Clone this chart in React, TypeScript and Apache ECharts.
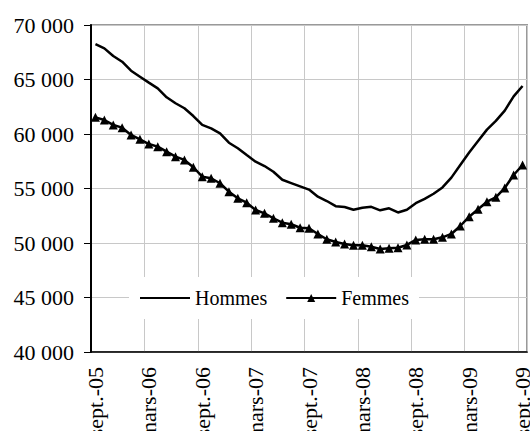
import React, { useEffect, useRef } from "react";
import * as echarts from "echarts";

const years = ["05", "06", "07", "08", "09"];
const monthNames = ["janv.", "févr.", "mars", "avr.", "mai", "juin", "juil.", "août", "sept.", "oct.", "nov.", "déc."];

// Monthly categories from sept.-05 to sept.-09
const categories: string[] = [];
for (let y = 0; y < years.length; y++) {
  for (let m = 0; m < 12; m++) {
    if (y === 0 && m < 8) continue;
    if (y === years.length - 1 && m > 8) continue;
    categories.push(monthNames[m] + "-" + years[y]);
  }
}

const hommes = [
  68250, 67860, 67160, 66630, 65810, 65260, 64710, 64190, 63370, 62820,
  62360, 61650, 60830, 60520, 60060, 59200, 58690, 58070, 57460, 57060,
  56540, 55800, 55500, 55200, 54900, 54250, 53850, 53380, 53300, 53050,
  53240, 53320, 53000, 53180, 52800, 53050, 53650, 54050, 54520, 55100,
  56000, 57150, 58300, 59350, 60400, 61200, 62150, 63450, 64400,
];

const femmes = [
  61530, 61280, 60830, 60580, 59910, 59510, 59080, 58840, 58380, 57920,
  57620, 56950, 56080, 55940, 55480, 54710, 54100, 53700, 53030, 52720,
  52270, 51860, 51720, 51400, 51350, 50830, 50340, 50090, 49910, 49790,
  49790, 49660, 49450, 49510, 49570, 49820, 50280, 50340, 50340, 50520,
  50830, 51560, 52410, 53090, 53790, 54190, 55050, 56240, 57160,
];

const FONT = "Liberation Serif";

export default function App() {
  const ref = useRef<HTMLDivElement>(null);
  useEffect(() => {
    if (!ref.current) return;
    const chart = echarts.init(ref.current, undefined, { renderer: "svg" });
    chart.setOption({
      animation: false,
      backgroundColor: "#ffffff",
      grid: {
        left: 91,
        right: 3,
        top: 25,
        bottom: 79,
        show: true,
        borderColor: "#999999",
        borderWidth: 2,
        containLabel: false,
        outerBoundsMode: "none",
      },
      legend: {
        left: 129,
        top: 277,
        padding: [11, 10],
        backgroundColor: "#ffffff",
        itemGap: 18,
        itemWidth: 50,
        itemHeight: 10,
        textStyle: { fontFamily: FONT, fontSize: 20, color: "#000" },
        data: [
          { name: "Hommes", itemStyle: { color: "rgba(0,0,0,0)", borderWidth: 0, opacity: 0 } },
          { name: "Femmes" },
        ],
      },
      xAxis: {
        type: "category",
        data: categories,
        boundaryGap: true,
        axisLine: { lineStyle: { color: "#000", width: 1.5 } },
        axisTick: { interval: 5, length: 6, lineStyle: { color: "#000" } },
        axisLabel: {
          interval: 5,
          rotate: 90,
          margin: 15,
          fontFamily: FONT,
          fontSize: 22,
          color: "#000",
          hideOverlap: false,
        },
        splitLine: { show: true, interval: 5, lineStyle: { color: "#c8c8c8", width: 1 } },
      },
      yAxis: {
        type: "value",
        min: 40000,
        max: 70000,
        interval: 5000,
        axisLine: { show: true, lineStyle: { color: "#000", width: 2 } },
        axisTick: { show: true, length: 7, lineStyle: { color: "#000" } },
        axisLabel: {
          margin: 17,
          fontFamily: FONT,
          fontSize: 22,
          color: "#000",
          formatter: (v: number) => {
            const s = String(Math.round(v));
            return s.replace(/\B(?=(\d{3})+(?!\d))/g, " ");
          },
        },
        splitLine: { show: true, lineStyle: { color: "#c8c8c8", width: 1 } },
      },
      series: [
        {
          name: "Hommes",
          type: "line",
          data: hommes,
          symbol: "none",
          lineStyle: { color: "#000", width: 2.5 },
          itemStyle: { color: "#000" },
        },
        {
          name: "Femmes",
          type: "line",
          data: femmes,
          symbol: "triangle",
          symbolSize: 9,
          showAllSymbol: true,
          lineStyle: { color: "#000", width: 2.5 },
          itemStyle: { color: "#000" },
        },
      ],
    });
    return () => chart.dispose();
  }, []);
  return (
    <div
      ref={ref}
      style={{ position: "fixed", left: 0, top: 0, width: 530, height: 431 }}
    />
  );
}
